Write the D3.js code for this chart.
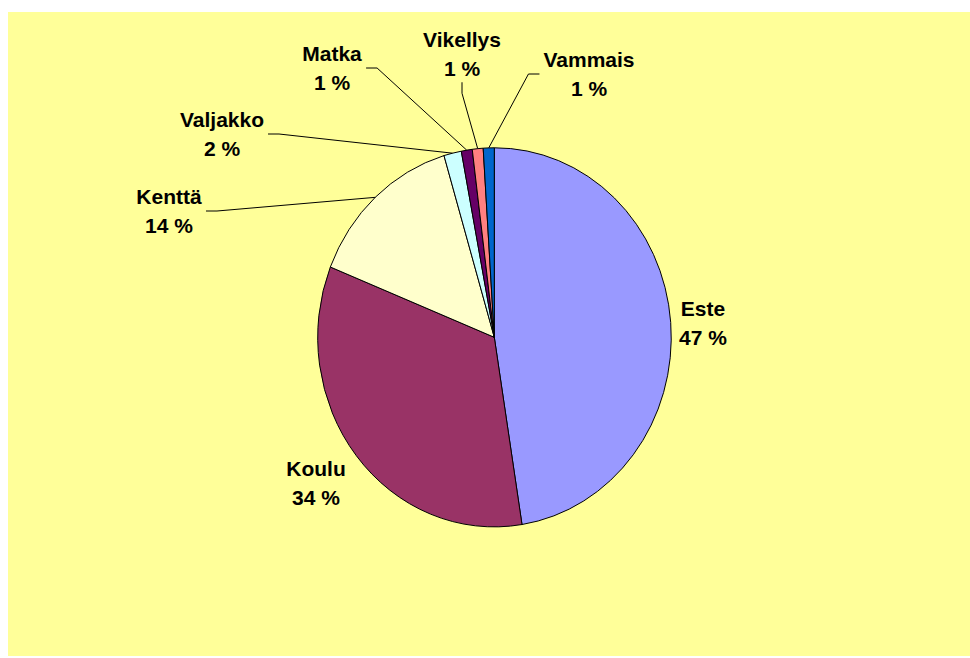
<!DOCTYPE html>
<html>
<head>
<meta charset="utf-8">
<script src="https://cdn.jsdelivr.net/npm/d3@7"></script>
<style>
  body { margin: 0; background: #fff; }
  svg { display: block; }
  text { font-family: Arial, "Liberation Sans", sans-serif; font-weight: bold; font-size: 21px; fill: #000; }
</style>
</head>
<body>
<svg id="chart"></svg>
<script>
// data
const categories = ["Este", "Koulu", "Kenttä", "Valjakko", "Matka", "Vikellys", "Vammais"]
const values     = [47.49, 33.56, 14.35, 1.6, 1.0, 1.0, 1.0]
const colors     = ["#9999FF", "#993366", "#FFFFCC", "#CCFFFF", "#660066", "#FF8080", "#0066CC"]

// label layout (block centre + where the leader line leaves the label)
const labelLayout = {
  "Este":     { x: 703, y: 323, side: null },
  "Koulu":    { x: 316, y: 483, side: null },
  "Kenttä":   { x: 169, y: 211, side: "right" },
  "Valjakko": { x: 222, y: 134, side: "right" },
  "Matka":    { x: 332, y: 68,  side: "right" },
  "Vikellys": { x: 462, y: 54,  side: "bottom" },
  "Vammais":  { x: 589, y: 74,  side: "left" }
}

const width = 970, height = 658
const cx = 494.3, cy = 337.3
const rx = 176.5, ry = 189.5
const lineGap = 29.5

const svg = d3.select("#chart").attr("width", width).attr("height", height)

svg.append("rect")
  .attr("x", 8).attr("y", 12)
  .attr("width", width - 8).attr("height", 644)
  .attr("fill", "#FFFF99")

const data = categories.map((c, i) => ({ name: c, value: values[i], color: colors[i] }))
const total = d3.sum(values)

const pie = d3.pie().value(d => d.value).sort(null)
const arcs = pie(data)
const arc = d3.arc().innerRadius(0).outerRadius(1)

svg.append("g")
    .attr("transform", `translate(${cx},${cy}) scale(${rx},${ry})`)
  .selectAll("path")
  .data(arcs)
  .join("path")
    .attr("d", arc)
    .attr("fill", d => d.data.color)
    .attr("stroke", "#000")
    .attr("stroke-width", 1)
    .attr("vector-effect", "non-scaling-stroke")

// labels
const labels = svg.append("g")
arcs.forEach(d => {
  const L = labelLayout[d.data.name]
  const pct = Math.round(d.data.value / total * 100) + " %"
  const t = labels.append("text").attr("text-anchor", "middle")
  t.append("tspan").attr("x", L.x).attr("y", L.y - lineGap / 2 + 7.5).text(d.data.name)
  t.append("tspan").attr("x", L.x).attr("y", L.y + lineGap / 2 + 7.5).text(pct)
  if (!L.side) return

  const bb = t.node().getBBox()
  const mid = (d.startAngle + d.endAngle) / 2
  const px = cx + rx * Math.sin(mid)
  const py = cy - ry * Math.cos(mid)
  let pts
  if (L.side === "right") {
    const x0 = bb.x + bb.width + 4
    pts = [[x0, L.y], [x0 + 11, L.y], [px, py]]
  } else if (L.side === "left") {
    const x0 = bb.x - 4
    pts = [[x0, L.y], [x0 - 11, L.y], [px, py]]
  } else {
    const y0 = bb.y + bb.height + 2
    pts = [[L.x, y0], [L.x, y0 + 11], [px, py]]
  }
  svg.append("path")
    .attr("d", d3.line()(pts))
    .attr("fill", "none")
    .attr("stroke", "#000")
    .attr("stroke-width", 1)
})
</script>
</body>
</html>
